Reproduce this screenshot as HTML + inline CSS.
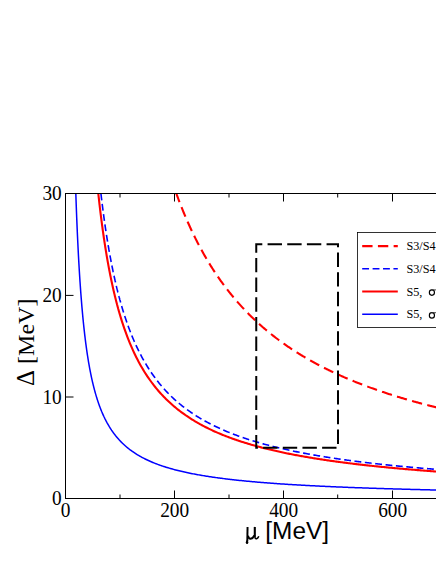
<!DOCTYPE html>
<html><head><meta charset="utf-8"><style>
html,body{margin:0;padding:0;background:#fff;}
svg{display:block}
text{font-family:"Liberation Serif",serif;fill:#000}
</style></head><body>
<svg width="436" height="564" viewBox="0 0 436 564">
<rect width="436" height="564" fill="#fff"/>
<defs><clipPath id="c"><rect x="65.5" y="193.5" width="400" height="305"/></clipPath></defs>
<g clip-path="url(#c)" fill="none">
<path d="M176.32,193.50 L177.00,195.35 L177.67,197.19 L178.35,199.00 L179.03,200.79 L179.71,202.56 L180.39,204.31 L181.07,206.03 L181.74,207.74 L182.42,209.43 L183.10,211.09 L183.78,212.74 L184.46,214.37 L185.14,215.98 L185.81,217.58 L186.49,219.15 L187.17,220.71 L187.85,222.25 L188.53,223.77 L189.21,225.28 L189.88,226.77 L190.56,228.24 L191.24,229.70 L191.92,231.14 L192.60,232.57 L193.28,233.98 L193.96,235.38 L194.63,236.76 L195.31,238.13 L195.99,239.48 L196.67,240.82 L197.35,242.15 L198.03,243.46 L198.70,244.76 L199.38,246.05 L200.06,247.32 L200.74,248.58 L201.42,249.83 L202.10,251.06 L202.77,252.28 L203.45,253.49 L204.13,254.69 L204.81,255.88 L205.49,257.06 L206.17,258.22 L206.84,259.37 L207.52,260.52 L208.20,261.65 L208.88,262.77 L209.56,263.88 L210.24,264.98 L210.92,266.07 L211.59,267.15 L212.27,268.22 L212.95,269.28 L213.63,270.33 L214.31,271.37 L214.99,272.40 L215.66,273.42 L216.34,274.43 L217.02,275.43 L217.70,276.43 L218.38,277.41 L219.06,278.39 L219.73,279.36 L220.41,280.32 L221.09,281.27 L221.77,282.21 L222.45,283.15 L223.13,284.07 L223.80,284.99 L224.48,285.90 L225.16,286.81 L225.84,287.70 L226.52,288.59 L227.20,289.47 L227.88,290.35 L228.55,291.21 L229.23,292.07 L229.91,292.92 L230.59,293.77 L231.27,294.60 L231.95,295.44 L232.62,296.26 L233.30,297.08 L233.98,297.89 L234.66,298.69 L235.34,299.49 L236.02,300.28 L236.69,301.07 L237.37,301.85 L238.05,302.62 L238.73,303.39 L239.41,304.15 L240.09,304.90 L240.77,305.65 L241.44,306.40 L242.12,307.14 L242.80,307.87 L243.48,308.59 L244.16,309.32 L244.84,310.03 L245.51,310.74 L246.19,311.45 L246.87,312.15 L247.55,312.84 L248.23,313.53 L248.91,314.21 L249.58,314.89 L250.26,315.57 L250.94,316.24 L251.62,316.90 L252.30,317.56 L252.98,318.21 L253.65,318.86 L254.33,319.51 L255.01,320.15 L255.69,320.79 L256.37,321.42 L257.05,322.05 L257.73,322.67 L258.40,323.29 L259.08,323.90 L259.76,324.51 L260.44,325.12 L261.12,325.72 L261.80,326.31 L262.47,326.91 L263.15,327.50 L263.83,328.08 L264.51,328.66 L265.19,329.24 L265.87,329.81 L266.54,330.38 L267.22,330.95 L267.90,331.51 L268.58,332.07 L269.26,332.62 L269.94,333.17 L270.61,333.72 L271.29,334.26 L271.97,334.80 L272.65,335.34 L273.33,335.87 L274.01,336.40 L274.69,336.92 L275.36,337.45 L276.04,337.97 L276.72,338.48 L277.40,338.99 L278.08,339.50 L278.76,340.01 L279.43,340.51 L280.11,341.01 L280.79,341.51 L281.47,342.00 L282.15,342.49 L282.83,342.98 L283.50,343.46 L284.18,343.94 L284.86,344.42 L285.54,344.90 L286.22,345.37 L286.90,345.84 L287.57,346.30 L288.25,346.77 L288.93,347.23 L289.61,347.68 L290.29,348.14 L290.97,348.59 L291.65,349.04 L292.32,349.49 L293.00,349.93 L293.68,350.38 L294.36,350.81 L295.04,351.25 L295.72,351.68 L296.39,352.12 L297.07,352.54 L297.75,352.97 L298.43,353.40 L299.11,353.82 L299.79,354.24 L300.46,354.65 L301.14,355.07 L301.82,355.48 L302.50,355.89 L303.18,356.29 L303.86,356.70 L304.54,357.10 L305.21,357.50 L305.89,357.90 L306.57,358.30 L307.25,358.69 L307.93,359.08 L308.61,359.47 L309.28,359.86 L309.96,360.24 L310.64,360.62 L311.32,361.00 L312.00,361.38 L312.68,361.76 L313.35,362.13 L314.03,362.51 L314.71,362.88 L315.39,363.24 L316.07,363.61 L316.75,363.97 L317.42,364.34 L318.10,364.70 L318.78,365.05 L319.46,365.41 L320.14,365.77 L320.82,366.12 L321.50,366.47 L322.17,366.82 L322.85,367.17 L323.53,367.51 L324.21,367.85 L324.89,368.20 L325.57,368.54 L326.24,368.87 L326.92,369.21 L327.60,369.55 L328.28,369.88 L328.96,370.21 L329.64,370.54 L330.31,370.87 L330.99,371.19 L331.67,371.52 L332.35,371.84 L333.03,372.16 L333.71,372.48 L334.38,372.80 L335.06,373.11 L335.74,373.43 L336.42,373.74 L337.10,374.05 L337.78,374.36 L338.46,374.67 L339.13,374.98 L339.81,375.29 L340.49,375.59 L341.17,375.89 L341.85,376.19 L342.53,376.49 L343.20,376.79 L343.88,377.09 L344.56,377.38 L345.24,377.68 L345.92,377.97 L346.60,378.26 L347.27,378.55 L347.95,378.84 L348.63,379.12 L349.31,379.41 L349.99,379.69 L350.67,379.98 L351.34,380.26 L352.02,380.54 L352.70,380.82 L353.38,381.09 L354.06,381.37 L354.74,381.64 L355.42,381.92 L356.09,382.19 L356.77,382.46 L357.45,382.73 L358.13,383.00 L358.81,383.27 L359.49,383.53 L360.16,383.80 L360.84,384.06 L361.52,384.32 L362.20,384.58 L362.88,384.84 L363.56,385.10 L364.23,385.36 L364.91,385.62 L365.59,385.87 L366.27,386.12 L366.95,386.38 L367.63,386.63 L368.31,386.88 L368.98,387.13 L369.66,387.38 L370.34,387.62 L371.02,387.87 L371.70,388.12 L372.38,388.36 L373.05,388.60 L373.73,388.85 L374.41,389.09 L375.09,389.33 L375.77,389.56 L376.45,389.80 L377.12,390.04 L377.80,390.27 L378.48,390.51 L379.16,390.74 L379.84,390.97 L380.52,391.21 L381.19,391.44 L381.87,391.67 L382.55,391.90 L383.23,392.12 L383.91,392.35 L384.59,392.58 L385.27,392.80 L385.94,393.02 L386.62,393.25 L387.30,393.47 L387.98,393.69 L388.66,393.91 L389.34,394.13 L390.01,394.35 L390.69,394.56 L391.37,394.78 L392.05,395.00 L392.73,395.21 L393.41,395.42 L394.08,395.64 L394.76,395.85 L395.44,396.06 L396.12,396.27 L396.80,396.48 L397.48,396.69 L398.15,396.90 L398.83,397.10 L399.51,397.31 L400.19,397.51 L400.87,397.72 L401.55,397.92 L402.23,398.12 L402.90,398.33 L403.58,398.53 L404.26,398.73 L404.94,398.93 L405.62,399.12 L406.30,399.32 L406.97,399.52 L407.65,399.72 L408.33,399.91 L409.01,400.11 L409.69,400.30 L410.37,400.49 L411.04,400.69 L411.72,400.88 L412.40,401.07 L413.08,401.26 L413.76,401.45 L414.44,401.64 L415.11,401.82 L415.79,402.01 L416.47,402.20 L417.15,402.38 L417.83,402.57 L418.51,402.75 L419.19,402.94 L419.86,403.12 L420.54,403.30 L421.22,403.48 L421.90,403.66 L422.58,403.84 L423.26,404.02 L423.93,404.20 L424.61,404.38 L425.29,404.56 L425.97,404.74 L426.65,404.91 L427.33,405.09 L428.00,405.26 L428.68,405.44 L429.36,405.61 L430.04,405.78 L430.72,405.95 L431.40,406.13 L432.08,406.30 L432.75,406.47 L433.43,406.64 L434.11,406.81 L434.79,406.97 L435.47,407.14 L436.15,407.31 L436.82,407.48 L437.50,407.64 L438.18,407.81 L438.86,407.97 L439.54,408.14 L440.22,408.30 L440.89,408.46 L441.57,408.63 L442.25,408.79 L442.93,408.95 L443.61,409.11 L444.29,409.27 L444.96,409.43 L445.64,409.59 L446.32,409.75 L447.00,409.90" stroke="#f00" stroke-width="2.1" stroke-dasharray="10.35 5.37" stroke-dashoffset="1.2"/>
<path d="M100.93,193.50 L101.02,194.32 L101.12,195.14 L101.21,195.95 L101.31,196.76 L101.40,197.57 L101.50,198.37 L101.60,199.17 L101.69,199.96 L101.79,200.75 L101.88,201.53 L101.98,202.31 L102.08,203.09 L102.17,203.86 L102.27,204.63 L102.36,205.40 L102.46,206.16 L102.55,206.91 L102.65,207.66 L102.75,208.41 L102.84,209.16 L102.94,209.90 L103.03,210.64 L103.13,211.37 L103.23,212.10 L103.32,212.82 L103.42,213.55 L103.51,214.26 L103.61,214.98 L103.70,215.69 L103.80,216.40 L103.90,217.10 L103.99,217.80 L104.09,218.50 L104.18,219.19 L104.28,219.89 L104.38,220.57 L104.47,221.26 L104.57,221.94 L104.66,222.61 L104.76,223.29 L104.86,223.96 L104.95,224.62 L105.05,225.29 L105.14,225.95 L105.24,226.61 L105.33,227.26 L105.43,227.91 L105.53,228.56 L105.62,229.20 L105.72,229.85 L105.81,230.48 L105.91,231.12 L106.01,231.75 L106.10,232.38 L106.20,233.01 L106.29,233.63 L106.39,234.25 L106.48,234.87 L106.58,235.49 L106.68,236.10 L106.77,236.71 L106.87,237.32 L106.96,237.92 L107.06,238.52 L107.16,239.12 L107.25,239.71 L107.35,240.31 L107.44,240.90 L107.54,241.48 L107.63,242.07 L107.73,242.65 L107.83,243.23 L107.92,243.81 L108.02,244.38 L108.11,244.95 L108.21,245.52 L108.31,246.09 L108.40,246.65 L108.50,247.21 L108.59,247.77 L108.69,248.33 L108.79,248.88 L108.88,249.44 L108.98,249.98 L109.07,250.53 L109.17,251.08 L109.26,251.62 L109.36,252.16 L109.46,252.69 L109.55,253.23 L109.65,253.76 L109.74,254.29 L109.84,254.82 L109.94,255.35 L110.03,255.87 L110.13,256.39 L110.22,256.91 L110.32,257.43 L110.41,257.94 L110.51,258.45 L110.61,258.96 L110.70,259.47 L110.80,259.98 L110.89,260.48 L110.99,260.98 L111.09,261.48 L111.18,261.98 L111.28,262.47 L111.37,262.97 L111.47,263.46 L111.56,263.95 L111.66,264.43 L111.76,264.92 L111.85,265.40 L111.95,265.88 L112.04,266.36 L112.14,266.84 L112.24,267.31 L112.33,267.79 L112.43,268.26 L112.52,268.73 L112.62,269.20 L112.72,269.66 L112.81,270.12 L112.91,270.59 L113.00,271.05 L113.10,271.50 L113.19,271.96 L113.29,272.41 L113.39,272.87 L113.48,273.32 L113.58,273.77 L113.67,274.21 L113.77,274.66 L113.87,275.10 L113.96,275.55 L114.06,275.99 L114.15,276.42 L114.25,276.86 L114.34,277.30 L114.44,277.73 L114.54,278.16 L114.63,278.59 L114.73,279.02 L114.82,279.44 L114.92,279.87 L115.02,280.29 L115.11,280.71 L115.21,281.13 L115.30,281.55 L115.40,281.97 L115.49,282.38 L115.59,282.80 L115.69,283.21 L115.78,283.62 L115.88,284.03 L115.97,284.44 L116.07,284.84 L116.17,285.25 L116.26,285.65 L116.36,286.05 L116.45,286.45 L116.55,286.85 L116.65,287.24 L116.74,287.64 L116.84,288.03 L116.93,288.43 L117.03,288.82 L117.12,289.21 L117.22,289.59 L117.32,289.98 L117.41,290.37 L117.51,290.75 L117.60,291.13 L117.70,291.51 L117.80,291.89 L117.89,292.27 L117.99,292.65 L118.08,293.02 L118.18,293.40 L118.27,293.77 L118.37,294.14 L118.47,294.51 L118.56,294.88 L118.66,295.24 L118.75,295.61 L118.85,295.97 L118.95,296.34 L119.04,296.70 L119.14,297.06 L119.23,297.42 L119.33,297.78 L119.42,298.13 L119.52,298.49 L119.62,298.84 L119.71,299.20 L119.81,299.55 L119.90,299.90 L120.00,300.25 L120.00,300.25 L121.09,304.15 L122.19,307.90 L123.28,311.51 L124.37,314.98 L125.47,318.33 L126.56,321.55 L127.66,324.67 L128.75,327.67 L129.84,330.58 L130.94,333.38 L132.03,336.10 L133.12,338.72 L134.22,341.27 L135.31,343.73 L136.40,346.12 L137.50,348.43 L138.59,350.68 L139.69,352.86 L140.78,354.97 L141.87,357.03 L142.97,359.02 L144.06,360.97 L145.15,362.85 L146.25,364.69 L147.34,366.48 L148.43,368.22 L149.53,369.92 L150.62,371.57 L151.72,373.18 L152.81,374.75 L153.90,376.28 L155.00,377.77 L156.09,379.23 L157.18,380.65 L158.28,382.04 L159.37,383.40 L160.46,384.72 L161.56,386.02 L162.65,387.29 L163.75,388.52 L164.84,389.73 L165.93,390.92 L167.03,392.08 L168.12,393.21 L169.21,394.32 L170.31,395.41 L171.40,396.47 L172.49,397.52 L173.59,398.54 L174.68,399.54 L175.78,400.52 L176.87,401.48 L177.96,402.43 L179.06,403.35 L180.15,404.26 L181.24,405.15 L182.34,406.02 L183.43,406.88 L184.53,407.72 L185.62,408.55 L186.71,409.36 L187.81,410.16 L188.90,410.94 L189.99,411.71 L191.09,412.47 L192.18,413.21 L193.27,413.94 L194.37,414.66 L195.46,415.36 L196.56,416.06 L197.65,416.74 L198.74,417.41 L199.84,418.07 L200.93,418.72 L202.02,419.36 L203.12,419.99 L204.21,420.61 L205.30,421.22 L206.40,421.82 L207.49,422.41 L208.59,422.99 L209.68,423.56 L210.77,424.12 L211.87,424.68 L212.96,425.23 L214.05,425.77 L215.15,426.30 L216.24,426.82 L217.33,427.34 L218.43,427.85 L219.52,428.35 L220.62,428.84 L221.71,429.33 L222.80,429.81 L223.90,430.29 L224.99,430.75 L226.08,431.22 L227.18,431.67 L228.27,432.12 L229.36,432.56 L230.46,433.00 L231.55,433.43 L232.65,433.86 L233.74,434.28 L234.83,434.69 L235.93,435.10 L237.02,435.51 L238.11,435.91 L239.21,436.30 L240.30,436.69 L241.39,437.07 L242.49,437.45 L243.58,437.83 L244.68,438.20 L245.77,438.56 L246.86,438.93 L247.96,439.28 L249.05,439.64 L250.14,439.98 L251.24,440.33 L252.33,440.67 L253.42,441.01 L254.52,441.34 L255.61,441.67 L256.71,441.99 L257.80,442.31 L258.89,442.63 L259.99,442.95 L261.08,443.26 L262.17,443.56 L263.27,443.87 L264.36,444.17 L265.45,444.46 L266.55,444.76 L267.64,445.05 L268.74,445.34 L269.83,445.62 L270.92,445.90 L272.02,446.18 L273.11,446.46 L274.20,446.73 L275.30,447.00 L276.39,447.27 L277.48,447.53 L278.58,447.79 L279.67,448.05 L280.77,448.31 L281.86,448.56 L282.95,448.81 L284.05,449.06 L285.14,449.31 L286.23,449.55 L287.33,449.79 L288.42,450.03 L289.52,450.27 L290.61,450.50 L291.70,450.73 L292.80,450.96 L293.89,451.19 L294.98,451.42 L296.08,451.64 L297.17,451.86 L298.26,452.08 L299.36,452.30 L300.45,452.51 L301.55,452.73 L302.64,452.94 L303.73,453.15 L304.83,453.35 L305.92,453.56 L307.01,453.76 L308.11,453.96 L309.20,454.16 L310.29,454.36 L311.39,454.56 L312.48,454.75 L313.58,454.95 L314.67,455.14 L315.76,455.33 L316.86,455.51 L317.95,455.70 L319.04,455.89 L320.14,456.07 L321.23,456.25 L322.32,456.43 L323.42,456.61 L324.51,456.79 L325.61,456.96 L326.70,457.13 L327.79,457.31 L328.89,457.48 L329.98,457.65 L331.07,457.82 L332.17,457.98 L333.26,458.15 L334.35,458.31 L335.45,458.48 L336.54,458.64 L337.64,458.80 L338.73,458.96 L339.82,459.11 L340.92,459.27 L342.01,459.42 L343.10,459.58 L344.20,459.73 L345.29,459.88 L346.38,460.03 L347.48,460.18 L348.57,460.33 L349.67,460.48 L350.76,460.62 L351.85,460.77 L352.95,460.91 L354.04,461.05 L355.13,461.20 L356.23,461.34 L357.32,461.48 L358.41,461.61 L359.51,461.75 L360.60,461.89 L361.70,462.02 L362.79,462.16 L363.88,462.29 L364.98,462.42 L366.07,462.55 L367.16,462.68 L368.26,462.81 L369.35,462.94 L370.44,463.07 L371.54,463.20 L372.63,463.32 L373.73,463.45 L374.82,463.57 L375.91,463.69 L377.01,463.81 L378.10,463.94 L379.19,464.06 L380.29,464.18 L381.38,464.30 L382.47,464.41 L383.57,464.53 L384.66,464.65 L385.76,464.76 L386.85,464.88 L387.94,464.99 L389.04,465.10 L390.13,465.22 L391.22,465.33 L392.32,465.44 L393.41,465.55 L394.51,465.66 L395.60,465.77 L396.69,465.88 L397.79,465.98 L398.88,466.09 L399.97,466.20 L401.07,466.30 L402.16,466.41 L403.25,466.51 L404.35,466.61 L405.44,466.72 L406.54,466.82 L407.63,466.92 L408.72,467.02 L409.82,467.12 L410.91,467.22 L412.00,467.32 L413.10,467.42 L414.19,467.51 L415.28,467.61 L416.38,467.71 L417.47,467.80 L418.57,467.90 L419.66,467.99 L420.75,468.09 L421.85,468.18 L422.94,468.27 L424.03,468.36 L425.13,468.46 L426.22,468.55 L427.31,468.64 L428.41,468.73 L429.50,468.82 L430.60,468.91 L431.69,468.99 L432.78,469.08 L433.88,469.17 L434.97,469.26 L436.06,469.34 L437.16,469.43 L438.25,469.51 L439.34,469.60 L440.44,469.68 L441.53,469.77 L442.63,469.85 L443.72,469.93 L444.81,470.02 L445.91,470.10 L447.00,470.18" stroke="#00f" stroke-width="1.6" stroke-dasharray="6.85 3.56"/>
<path d="M98.29,193.50 L98.40,194.51 L98.51,195.51 L98.62,196.51 L98.73,197.50 L98.84,198.49 L98.95,199.47 L99.05,200.44 L99.16,201.41 L99.27,202.37 L99.38,203.32 L99.49,204.27 L99.60,205.21 L99.71,206.14 L99.82,207.07 L99.93,208.00 L100.04,208.91 L100.15,209.83 L100.25,210.73 L100.36,211.63 L100.47,212.53 L100.58,213.42 L100.69,214.30 L100.80,215.18 L100.91,216.05 L101.02,216.92 L101.13,217.78 L101.24,218.64 L101.35,219.49 L101.45,220.34 L101.56,221.18 L101.67,222.01 L101.78,222.85 L101.89,223.67 L102.00,224.49 L102.11,225.31 L102.22,226.12 L102.33,226.93 L102.44,227.73 L102.55,228.53 L102.65,229.32 L102.76,230.11 L102.87,230.89 L102.98,231.67 L103.09,232.44 L103.20,233.21 L103.31,233.98 L103.42,234.74 L103.53,235.50 L103.64,236.25 L103.75,237.00 L103.85,237.74 L103.96,238.48 L104.07,239.22 L104.18,239.95 L104.29,240.68 L104.40,241.40 L104.51,242.12 L104.62,242.83 L104.73,243.54 L104.84,244.25 L104.95,244.95 L105.05,245.65 L105.16,246.35 L105.27,247.04 L105.38,247.73 L105.49,248.41 L105.60,249.09 L105.71,249.77 L105.82,250.44 L105.93,251.11 L106.04,251.78 L106.15,252.44 L106.25,253.10 L106.36,253.75 L106.47,254.40 L106.58,255.05 L106.69,255.70 L106.80,256.34 L106.91,256.98 L107.02,257.61 L107.13,258.24 L107.24,258.87 L107.35,259.50 L107.45,260.12 L107.56,260.74 L107.67,261.35 L107.78,261.96 L107.89,262.57 L108.00,263.18 L108.11,263.78 L108.22,264.38 L108.33,264.97 L108.44,265.57 L108.55,266.16 L108.65,266.75 L108.76,267.33 L108.87,267.91 L108.98,268.49 L109.09,269.07 L109.20,269.64 L109.31,270.21 L109.42,270.78 L109.53,271.34 L109.64,271.90 L109.75,272.46 L109.85,273.02 L109.96,273.57 L110.07,274.12 L110.18,274.67 L110.29,275.21 L110.40,275.76 L110.51,276.30 L110.62,276.83 L110.73,277.37 L110.84,277.90 L110.95,278.43 L111.05,278.96 L111.16,279.48 L111.27,280.00 L111.38,280.52 L111.49,281.04 L111.60,281.55 L111.71,282.07 L111.82,282.58 L111.93,283.08 L112.04,283.59 L112.15,284.09 L112.25,284.59 L112.36,285.09 L112.47,285.58 L112.58,286.08 L112.69,286.57 L112.80,287.06 L112.91,287.54 L113.02,288.03 L113.13,288.51 L113.24,288.99 L113.35,289.47 L113.45,289.94 L113.56,290.42 L113.67,290.89 L113.78,291.36 L113.89,291.82 L114.00,292.29 L114.11,292.75 L114.22,293.21 L114.33,293.67 L114.44,294.13 L114.55,294.58 L114.65,295.03 L114.76,295.49 L114.87,295.93 L114.98,296.38 L115.09,296.83 L115.20,297.27 L115.31,297.71 L115.42,298.15 L115.53,298.58 L115.64,299.02 L115.75,299.45 L115.85,299.88 L115.96,300.31 L116.07,300.74 L116.18,301.17 L116.29,301.59 L116.40,302.01 L116.51,302.43 L116.62,302.85 L116.73,303.27 L116.84,303.68 L116.95,304.10 L117.05,304.51 L117.16,304.92 L117.27,305.32 L117.38,305.73 L117.49,306.13 L117.60,306.54 L117.71,306.94 L117.82,307.34 L117.93,307.74 L118.04,308.13 L118.15,308.53 L118.25,308.92 L118.36,309.31 L118.47,309.70 L118.58,310.09 L118.69,310.47 L118.80,310.86 L118.91,311.24 L119.02,311.62 L119.13,312.00 L119.24,312.38 L119.35,312.76 L119.45,313.14 L119.56,313.51 L119.67,313.88 L119.78,314.25 L119.89,314.62 L120.00,314.99 L120.00,314.99 L121.09,318.60 L122.19,322.07 L123.28,325.41 L124.37,328.63 L125.47,331.72 L126.56,334.71 L127.66,337.59 L128.75,340.38 L129.84,343.06 L130.94,345.66 L132.03,348.17 L133.12,350.60 L134.22,352.96 L135.31,355.24 L136.40,357.45 L137.50,359.59 L138.59,361.67 L139.69,363.69 L140.78,365.64 L141.87,367.55 L142.97,369.40 L144.06,371.19 L145.15,372.94 L146.25,374.64 L147.34,376.30 L148.43,377.91 L149.53,379.48 L150.62,381.01 L151.72,382.50 L152.81,383.95 L153.90,385.37 L155.00,386.75 L156.09,388.10 L157.18,389.42 L158.28,390.70 L159.37,391.96 L160.46,393.18 L161.56,394.38 L162.65,395.56 L163.75,396.70 L164.84,397.82 L165.93,398.92 L167.03,399.99 L168.12,401.04 L169.21,402.07 L170.31,403.08 L171.40,404.06 L172.49,405.03 L173.59,405.97 L174.68,406.90 L175.78,407.81 L176.87,408.70 L177.96,409.57 L179.06,410.43 L180.15,411.27 L181.24,412.09 L182.34,412.90 L183.43,413.69 L184.53,414.47 L185.62,415.24 L186.71,415.99 L187.81,416.73 L188.90,417.45 L189.99,418.16 L191.09,418.86 L192.18,419.55 L193.27,420.23 L194.37,420.89 L195.46,421.54 L196.56,422.19 L197.65,422.82 L198.74,423.44 L199.84,424.05 L200.93,424.65 L202.02,425.24 L203.12,425.83 L204.21,426.40 L205.30,426.96 L206.40,427.52 L207.49,428.06 L208.59,428.60 L209.68,429.13 L210.77,429.66 L211.87,430.17 L212.96,430.68 L214.05,431.18 L215.15,431.67 L216.24,432.15 L217.33,432.63 L218.43,433.10 L219.52,433.57 L220.62,434.02 L221.71,434.48 L222.80,434.92 L223.90,435.36 L224.99,435.79 L226.08,436.22 L227.18,436.64 L228.27,437.06 L229.36,437.47 L230.46,437.87 L231.55,438.27 L232.65,438.66 L233.74,439.05 L234.83,439.44 L235.93,439.82 L237.02,440.19 L238.11,440.56 L239.21,440.92 L240.30,441.29 L241.39,441.64 L242.49,441.99 L243.58,442.34 L244.68,442.68 L245.77,443.02 L246.86,443.36 L247.96,443.69 L249.05,444.01 L250.14,444.33 L251.24,444.65 L252.33,444.97 L253.42,445.28 L254.52,445.59 L255.61,445.89 L256.71,446.19 L257.80,446.49 L258.89,446.79 L259.99,447.08 L261.08,447.36 L262.17,447.65 L263.27,447.93 L264.36,448.21 L265.45,448.48 L266.55,448.75 L267.64,449.02 L268.74,449.29 L269.83,449.55 L270.92,449.81 L272.02,450.07 L273.11,450.33 L274.20,450.58 L275.30,450.83 L276.39,451.08 L277.48,451.32 L278.58,451.56 L279.67,451.80 L280.77,452.04 L281.86,452.27 L282.95,452.51 L284.05,452.74 L285.14,452.97 L286.23,453.19 L287.33,453.41 L288.42,453.64 L289.52,453.85 L290.61,454.07 L291.70,454.29 L292.80,454.50 L293.89,454.71 L294.98,454.92 L296.08,455.13 L297.17,455.33 L298.26,455.53 L299.36,455.73 L300.45,455.93 L301.55,456.13 L302.64,456.33 L303.73,456.52 L304.83,456.71 L305.92,456.90 L307.01,457.09 L308.11,457.28 L309.20,457.46 L310.29,457.64 L311.39,457.83 L312.48,458.01 L313.58,458.18 L314.67,458.36 L315.76,458.54 L316.86,458.71 L317.95,458.88 L319.04,459.05 L320.14,459.22 L321.23,459.39 L322.32,459.56 L323.42,459.72 L324.51,459.89 L325.61,460.05 L326.70,460.21 L327.79,460.37 L328.89,460.53 L329.98,460.69 L331.07,460.84 L332.17,461.00 L333.26,461.15 L334.35,461.30 L335.45,461.45 L336.54,461.60 L337.64,461.75 L338.73,461.90 L339.82,462.04 L340.92,462.19 L342.01,462.33 L343.10,462.47 L344.20,462.61 L345.29,462.75 L346.38,462.89 L347.48,463.03 L348.57,463.17 L349.67,463.30 L350.76,463.44 L351.85,463.57 L352.95,463.71 L354.04,463.84 L355.13,463.97 L356.23,464.10 L357.32,464.23 L358.41,464.36 L359.51,464.48 L360.60,464.61 L361.70,464.73 L362.79,464.86 L363.88,464.98 L364.98,465.10 L366.07,465.23 L367.16,465.35 L368.26,465.47 L369.35,465.59 L370.44,465.70 L371.54,465.82 L372.63,465.94 L373.73,466.05 L374.82,466.17 L375.91,466.28 L377.01,466.39 L378.10,466.51 L379.19,466.62 L380.29,466.73 L381.38,466.84 L382.47,466.95 L383.57,467.06 L384.66,467.16 L385.76,467.27 L386.85,467.38 L387.94,467.48 L389.04,467.59 L390.13,467.69 L391.22,467.80 L392.32,467.90 L393.41,468.00 L394.51,468.10 L395.60,468.20 L396.69,468.30 L397.79,468.40 L398.88,468.50 L399.97,468.60 L401.07,468.70 L402.16,468.79 L403.25,468.89 L404.35,468.98 L405.44,469.08 L406.54,469.17 L407.63,469.27 L408.72,469.36 L409.82,469.45 L410.91,469.55 L412.00,469.64 L413.10,469.73 L414.19,469.82 L415.28,469.91 L416.38,470.00 L417.47,470.09 L418.57,470.17 L419.66,470.26 L420.75,470.35 L421.85,470.43 L422.94,470.52 L424.03,470.61 L425.13,470.69 L426.22,470.77 L427.31,470.86 L428.41,470.94 L429.50,471.02 L430.60,471.11 L431.69,471.19 L432.78,471.27 L433.88,471.35 L434.97,471.43 L436.06,471.51 L437.16,471.59 L438.25,471.67 L439.34,471.75 L440.44,471.83 L441.53,471.90 L442.63,471.98 L443.72,472.06 L444.81,472.13 L445.91,472.21 L447.00,472.28" stroke="#f00" stroke-width="2.1"/>
<path d="M75.82,193.50 L76.04,199.92 L76.26,206.08 L76.48,211.99 L76.71,217.67 L76.93,223.12 L77.15,228.37 L77.37,233.42 L77.59,238.29 L77.82,242.98 L78.04,247.50 L78.26,251.87 L78.48,256.09 L78.70,260.16 L78.93,264.10 L79.15,267.92 L79.37,271.61 L79.59,275.18 L79.81,278.65 L80.04,282.00 L80.26,285.26 L80.48,288.42 L80.70,291.49 L80.93,294.47 L81.15,297.36 L81.37,300.18 L81.59,302.91 L81.81,305.58 L82.04,308.17 L82.26,310.69 L82.48,313.14 L82.70,315.54 L82.92,317.87 L83.15,320.14 L83.37,322.36 L83.59,324.52 L83.81,326.63 L84.03,328.69 L84.26,330.70 L84.48,332.66 L84.70,334.58 L84.92,336.45 L85.14,338.28 L85.37,340.07 L85.59,341.82 L85.81,343.54 L86.03,345.21 L86.25,346.85 L86.48,348.46 L86.70,350.03 L86.92,351.57 L87.14,353.08 L87.36,354.55 L87.59,356.00 L87.81,357.42 L88.03,358.81 L88.25,360.17 L88.47,361.51 L88.70,362.82 L88.92,364.11 L89.14,365.37 L89.36,366.61 L89.58,367.82 L89.81,369.02 L90.03,370.19 L90.25,371.34 L90.47,372.47 L90.69,373.58 L90.92,374.67 L91.14,375.74 L91.36,376.80 L91.58,377.83 L91.80,378.85 L92.03,379.85 L92.25,380.84 L92.47,381.81 L92.69,382.76 L92.91,383.70 L93.14,384.62 L93.36,385.53 L93.58,386.42 L93.80,387.30 L94.02,388.16 L94.25,389.02 L94.47,389.86 L94.69,390.68 L94.91,391.50 L95.13,392.30 L95.36,393.09 L95.58,393.87 L95.80,394.63 L96.02,395.39 L96.24,396.13 L96.47,396.87 L96.69,397.59 L96.91,398.30 L97.13,399.01 L97.35,399.70 L97.58,400.38 L97.80,401.06 L98.02,401.72 L98.24,402.38 L98.46,403.03 L98.69,403.67 L98.91,404.30 L99.13,404.92 L99.35,405.53 L99.57,406.14 L99.80,406.74 L100.02,407.33 L100.24,407.91 L100.46,408.48 L100.68,409.05 L100.91,409.61 L101.13,410.17 L101.35,410.71 L101.57,411.25 L101.79,411.79 L102.02,412.31 L102.24,412.84 L102.46,413.35 L102.68,413.86 L102.90,414.36 L103.13,414.86 L103.35,415.35 L103.57,415.83 L103.79,416.31 L104.01,416.79 L104.24,417.25 L104.46,417.72 L104.68,418.17 L104.90,418.63 L105.12,419.08 L105.35,419.52 L105.57,419.96 L105.79,420.39 L106.01,420.82 L106.23,421.24 L106.46,421.66 L106.68,422.07 L106.90,422.48 L107.12,422.89 L107.35,423.29 L107.57,423.69 L107.79,424.08 L108.01,424.47 L108.23,424.85 L108.46,425.23 L108.68,425.61 L108.90,425.98 L109.12,426.35 L109.34,426.72 L109.57,427.08 L109.79,427.44 L110.01,427.79 L110.23,428.14 L110.45,428.49 L110.68,428.83 L110.90,429.17 L111.12,429.51 L111.34,429.85 L111.56,430.18 L111.79,430.50 L112.01,430.83 L112.23,431.15 L112.45,431.47 L112.67,431.78 L112.90,432.10 L113.12,432.41 L113.34,432.71 L113.56,433.02 L113.78,433.32 L114.01,433.62 L114.23,433.91 L114.45,434.21 L114.67,434.50 L114.89,434.78 L115.12,435.07 L115.34,435.35 L115.56,435.63 L115.78,435.91 L116.00,436.18 L116.23,436.46 L116.45,436.73 L116.67,436.99 L116.89,437.26 L117.11,437.52 L117.34,437.79 L117.56,438.04 L117.78,438.30 L118.00,438.56 L118.22,438.81 L118.45,439.06 L118.67,439.31 L118.89,439.55 L119.11,439.80 L119.33,440.04 L119.56,440.28 L119.78,440.52 L120.00,440.75 L120.00,440.75 L121.09,441.89 L122.19,442.98 L123.28,444.03 L124.37,445.04 L125.47,446.02 L126.56,446.96 L127.66,447.87 L128.75,448.74 L129.84,449.59 L130.94,450.40 L132.03,451.20 L133.12,451.96 L134.22,452.70 L135.31,453.42 L136.40,454.11 L137.50,454.79 L138.59,455.44 L139.69,456.08 L140.78,456.69 L141.87,457.29 L142.97,457.87 L144.06,458.44 L145.15,458.99 L146.25,459.52 L147.34,460.04 L148.43,460.55 L149.53,461.05 L150.62,461.53 L151.72,462.00 L152.81,462.45 L153.90,462.90 L155.00,463.33 L156.09,463.76 L157.18,464.17 L158.28,464.58 L159.37,464.97 L160.46,465.36 L161.56,465.74 L162.65,466.11 L163.75,466.47 L164.84,466.82 L165.93,467.16 L167.03,467.50 L168.12,467.83 L169.21,468.15 L170.31,468.47 L171.40,468.78 L172.49,469.09 L173.59,469.38 L174.68,469.67 L175.78,469.96 L176.87,470.24 L177.96,470.52 L179.06,470.79 L180.15,471.05 L181.24,471.31 L182.34,471.56 L183.43,471.81 L184.53,472.06 L185.62,472.30 L186.71,472.54 L187.81,472.77 L188.90,473.00 L189.99,473.22 L191.09,473.44 L192.18,473.66 L193.27,473.87 L194.37,474.08 L195.46,474.28 L196.56,474.49 L197.65,474.68 L198.74,474.88 L199.84,475.07 L200.93,475.26 L202.02,475.45 L203.12,475.63 L204.21,475.81 L205.30,475.99 L206.40,476.16 L207.49,476.34 L208.59,476.50 L209.68,476.67 L210.77,476.84 L211.87,477.00 L212.96,477.16 L214.05,477.31 L215.15,477.47 L216.24,477.62 L217.33,477.77 L218.43,477.92 L219.52,478.07 L220.62,478.21 L221.71,478.35 L222.80,478.49 L223.90,478.63 L224.99,478.77 L226.08,478.90 L227.18,479.03 L228.27,479.16 L229.36,479.29 L230.46,479.42 L231.55,479.55 L232.65,479.67 L233.74,479.79 L234.83,479.91 L235.93,480.03 L237.02,480.15 L238.11,480.27 L239.21,480.38 L240.30,480.50 L241.39,480.61 L242.49,480.72 L243.58,480.83 L244.68,480.94 L245.77,481.04 L246.86,481.15 L247.96,481.25 L249.05,481.35 L250.14,481.46 L251.24,481.56 L252.33,481.65 L253.42,481.75 L254.52,481.85 L255.61,481.95 L256.71,482.04 L257.80,482.13 L258.89,482.23 L259.99,482.32 L261.08,482.41 L262.17,482.50 L263.27,482.59 L264.36,482.67 L265.45,482.76 L266.55,482.85 L267.64,482.93 L268.74,483.01 L269.83,483.10 L270.92,483.18 L272.02,483.26 L273.11,483.34 L274.20,483.42 L275.30,483.50 L276.39,483.58 L277.48,483.65 L278.58,483.73 L279.67,483.81 L280.77,483.88 L281.86,483.95 L282.95,484.03 L284.05,484.10 L285.14,484.17 L286.23,484.24 L287.33,484.31 L288.42,484.38 L289.52,484.45 L290.61,484.52 L291.70,484.59 L292.80,484.65 L293.89,484.72 L294.98,484.79 L296.08,484.85 L297.17,484.92 L298.26,484.98 L299.36,485.04 L300.45,485.10 L301.55,485.17 L302.64,485.23 L303.73,485.29 L304.83,485.35 L305.92,485.41 L307.01,485.47 L308.11,485.53 L309.20,485.59 L310.29,485.64 L311.39,485.70 L312.48,485.76 L313.58,485.81 L314.67,485.87 L315.76,485.92 L316.86,485.98 L317.95,486.03 L319.04,486.09 L320.14,486.14 L321.23,486.19 L322.32,486.25 L323.42,486.30 L324.51,486.35 L325.61,486.40 L326.70,486.45 L327.79,486.50 L328.89,486.55 L329.98,486.60 L331.07,486.65 L332.17,486.70 L333.26,486.75 L334.35,486.79 L335.45,486.84 L336.54,486.89 L337.64,486.94 L338.73,486.98 L339.82,487.03 L340.92,487.07 L342.01,487.12 L343.10,487.16 L344.20,487.21 L345.29,487.25 L346.38,487.30 L347.48,487.34 L348.57,487.38 L349.67,487.42 L350.76,487.47 L351.85,487.51 L352.95,487.55 L354.04,487.59 L355.13,487.63 L356.23,487.67 L357.32,487.72 L358.41,487.76 L359.51,487.80 L360.60,487.84 L361.70,487.87 L362.79,487.91 L363.88,487.95 L364.98,487.99 L366.07,488.03 L367.16,488.07 L368.26,488.10 L369.35,488.14 L370.44,488.18 L371.54,488.22 L372.63,488.25 L373.73,488.29 L374.82,488.33 L375.91,488.36 L377.01,488.40 L378.10,488.43 L379.19,488.47 L380.29,488.50 L381.38,488.54 L382.47,488.57 L383.57,488.61 L384.66,488.64 L385.76,488.67 L386.85,488.71 L387.94,488.74 L389.04,488.77 L390.13,488.81 L391.22,488.84 L392.32,488.87 L393.41,488.90 L394.51,488.93 L395.60,488.97 L396.69,489.00 L397.79,489.03 L398.88,489.06 L399.97,489.09 L401.07,489.12 L402.16,489.15 L403.25,489.18 L404.35,489.21 L405.44,489.24 L406.54,489.27 L407.63,489.30 L408.72,489.33 L409.82,489.36 L410.91,489.39 L412.00,489.42 L413.10,489.45 L414.19,489.47 L415.28,489.50 L416.38,489.53 L417.47,489.56 L418.57,489.59 L419.66,489.61 L420.75,489.64 L421.85,489.67 L422.94,489.70 L424.03,489.72 L425.13,489.75 L426.22,489.78 L427.31,489.80 L428.41,489.83 L429.50,489.85 L430.60,489.88 L431.69,489.91 L432.78,489.93 L433.88,489.96 L434.97,489.98 L436.06,490.01 L437.16,490.03 L438.25,490.06 L439.34,490.08 L440.44,490.11 L441.53,490.13 L442.63,490.15 L443.72,490.18 L444.81,490.20 L445.91,490.23 L447.00,490.25" stroke="#00f" stroke-width="1.5"/>
</g>
<path d="M256.25,244.33 L256.25,447.67 L338.00,447.67 L338.00,244.33 Z" fill="none" stroke="#000" stroke-width="2" stroke-dasharray="14.4 5.261" stroke-dashoffset="6.05"/>
<g stroke="#000" stroke-width="1" fill="none">
<rect x="65.5" y="193.5" width="400" height="305"/>
<line x1="65.50" y1="498.5" x2="65.50" y2="490.5"/><line x1="65.50" y1="193.5" x2="65.50" y2="201.5"/><line x1="120.00" y1="498.5" x2="120.00" y2="494.5"/><line x1="120.00" y1="193.5" x2="120.00" y2="197.5"/><line x1="174.50" y1="498.5" x2="174.50" y2="490.5"/><line x1="174.50" y1="193.5" x2="174.50" y2="201.5"/><line x1="229.00" y1="498.5" x2="229.00" y2="494.5"/><line x1="229.00" y1="193.5" x2="229.00" y2="197.5"/><line x1="283.50" y1="498.5" x2="283.50" y2="490.5"/><line x1="283.50" y1="193.5" x2="283.50" y2="201.5"/><line x1="337.70" y1="498.5" x2="337.70" y2="494.5"/><line x1="337.70" y1="193.5" x2="337.70" y2="197.5"/><line x1="392.50" y1="498.5" x2="392.50" y2="490.5"/><line x1="392.50" y1="193.5" x2="392.50" y2="201.5"/><line x1="65.5" y1="498.50" x2="73.5" y2="498.50"/><line x1="65.5" y1="397.00" x2="73.5" y2="397.00"/><line x1="65.5" y1="295.40" x2="73.5" y2="295.40"/><line x1="65.5" y1="193.50" x2="73.5" y2="193.50"/>
</g>
<g font-size="20px"><text transform="translate(65.70,516.9) scale(0.968,1.03)" text-anchor="middle">0</text><text transform="translate(174.70,516.9) scale(0.968,1.03)" text-anchor="middle">200</text><text transform="translate(283.70,516.9) scale(0.968,1.03)" text-anchor="middle">400</text><text transform="translate(392.70,516.9) scale(0.968,1.03)" text-anchor="middle">600</text><text transform="translate(61.7,505.40) scale(0.965,1.005)" text-anchor="end">0</text><text transform="translate(61.7,403.73) scale(0.965,1.005)" text-anchor="end">10</text><text transform="translate(61.7,302.07) scale(0.965,1.005)" text-anchor="end">20</text><text transform="translate(61.7,200.40) scale(0.965,1.005)" text-anchor="end">30</text></g>
<g id="mu" fill="none" stroke="#000" stroke-linecap="butt">
<path d="M247.55,526.9 L247.3,541" stroke-width="1.95"/>
<ellipse cx="247.05" cy="542.2" rx="1.25" ry="1.9" fill="#000" stroke="none"/>
<path d="M248,535.8 Q248.6,538.9 250.6,538.8 Q252.9,538.5 254.3,535.5" stroke-width="2"/>
<path d="M254.8,526.9 L254.8,536.8" stroke-width="2.1"/>
<path d="M254.8,535.5 Q254.7,539.1 256.6,538.7 Q258,538.2 258.8,536.2" stroke-width="1.5"/>
</g>
<text x="265.3" y="539" style="font-family:&quot;Liberation Sans&quot;,sans-serif;font-size:24.4px">[MeV]</text>
<text transform="translate(34,385.9) rotate(-90) scale(1.03,1.06)" font-size="24px">Δ</text>
<text transform="translate(34,363.9) rotate(-90)" font-size="24px">[MeV]</text>
<g>
<rect x="357.5" y="232.5" width="100" height="95" fill="#fff" stroke="#000" stroke-width="0.8"/>
<line x1="362.2" y1="246.1" x2="397.8" y2="246.1" stroke="#f00" stroke-width="2.1" stroke-dasharray="10.35 5.37"/>
<line x1="362.2" y1="268.7" x2="397.8" y2="268.7" stroke="#00f" stroke-width="1.6" stroke-dasharray="6.85 3.56"/>
<line x1="362.2" y1="291.5" x2="397.8" y2="291.5" stroke="#f00" stroke-width="2.1"/>
<line x1="362.2" y1="314.3" x2="397.8" y2="314.3" stroke="#00f" stroke-width="1.5"/>
<g font-size="12.2px">
<text x="406.4" y="249.9">S3/S4</text>
<text x="406.4" y="272.7">S3/S4</text>
<text x="406.4" y="295.6">S5,</text>
<text x="406.4" y="318.4">S5,</text>
<g fill="none" stroke="#000">
<ellipse cx="431.9" cy="292.6" rx="2.55" ry="2.7" stroke-width="1.15"/>
<path d="M431.3,289.9 L437,289.9" stroke-width="0.9" stroke="#333"/>
<ellipse cx="431.9" cy="315.4" rx="2.55" ry="2.7" stroke-width="1.15"/>
<path d="M431.3,312.7 L437,312.7" stroke-width="0.9" stroke="#333"/>
</g>
</g>
</g>
</svg>
</body></html>
